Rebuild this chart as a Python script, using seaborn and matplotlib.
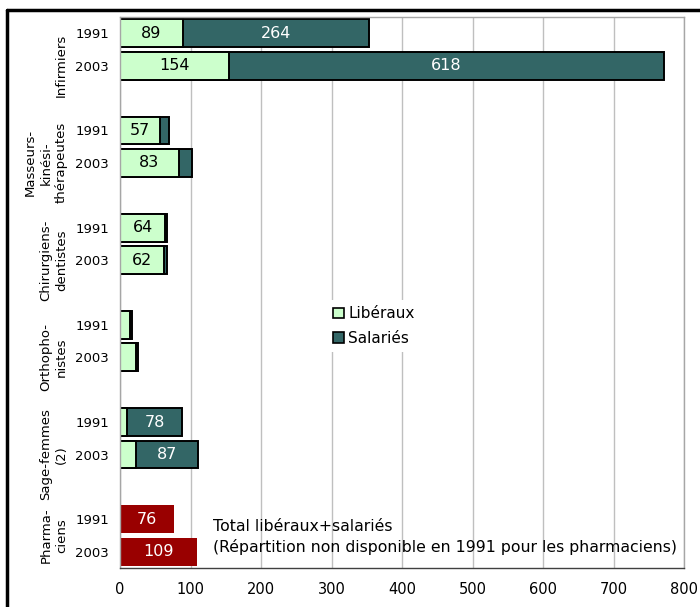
import matplotlib
matplotlib.use("Agg")
import matplotlib.pyplot as plt
import seaborn as sns
import pandas as pd
from matplotlib.lines import Line2D
from matplotlib.patches import Patch
from matplotlib.transforms import blended_transform_factory

# Effectifs (en milliers) par profession, libéraux / salariés
professions = ["Infirmiers", "Masseurs-\nkinési-\nthérapeutes", "Chirurgiens-\ndentistes",
               "Orthopho-\nnistes", "Sage-femmes\n(2)", "Pharma-\nciens"]
years = ["1991", "2003"]
liberaux = [89, 154, 57, 83, 64, 62, 14, 23, 10, 23]
salaries = [264, 618, 12, 19, 2, 4, 3, 3, 78, 87]
pharmaciens_total = [76, 109]
x_ticks = [0, 100, 200, 300, 400, 500, 600, 700, 800]

LIB = "#CCFFCC"
SAL = "#336666"
PHA = "#990000"

sns.set_style("white")
plt.rcParams["font.family"] = ["DejaVu Sans"]
plt.rcParams["text.color"] = "black"
plt.rcParams["xtick.color"] = "black"
plt.rcParams["ytick.color"] = "black"

# Slot order: two years per profession, one blank slot after each group but the last
order, split_rows, pharma_rows, tick_labels, group_centres = [], [], [], [], []
k = 0
for gi, prof in enumerate(professions):
    pos = []
    for yi, yr in enumerate(years):
        key = f"{gi}-{yr}"
        order.append(key)
        tick_labels.append(yr)
        pos.append(len(order) - 1)
        if gi < len(professions) - 1:
            split_rows.append({"slot": key, "lib": liberaux[k], "sal": salaries[k],
                               "total": liberaux[k] + salaries[k]})
            k += 1
        else:
            pharma_rows.append({"slot": key, "total": pharmaciens_total[yi]})
    if gi < len(professions) - 1:
        order.append(f"gap{gi}")
        tick_labels.append("")
        pos.append(len(order) - 1)
    # the group label spans its own slots, blank one included
    group_centres.append((pos[0] + pos[-1]) / 2)

split = pd.DataFrame(split_rows)
pharma = pd.DataFrame(pharma_rows)

fig = plt.figure(figsize=(7, 6.07), dpi=100)
W, H = 700, 607
ax = fig.add_axes([120 / W, 1 - 568 / H, (684 - 120) / W, (568 - 17) / H])

common = dict(y="slot", order=order, orient="h", width=0.86, errorbar=None,
              saturation=1, ax=ax)
sns.barplot(data=split, x="total", color=SAL, edgecolor="black", linewidth=1.4, **common)
sns.barplot(data=split, x="lib", color=LIB, edgecolor="black", linewidth=1.4, **common)
sns.barplot(data=pharma, x="total", color=PHA, linewidth=0, **common)

ax.set_ylim(len(order) - 0.5, -0.5)
ax.set_xlim(0, 800)
ax.set_xlabel("")
ax.set_ylabel("")

# Value labels inside the segments
for _, r in split.iterrows():
    yv = order.index(r["slot"])
    if r["lib"] >= 50:
        ax.text(r["lib"] / 2, yv, f"{r['lib']}", ha="center", va="center",
                fontsize=11.5, color="black")
    if r["sal"] >= 50:
        ax.text(r["lib"] + r["sal"] / 2, yv, f"{r['sal']}", ha="center", va="center",
                fontsize=11.5, color="white")
for _, r in pharma.iterrows():
    yv = order.index(r["slot"])
    ax.text(r["total"] / 2, yv, f"{r['total']}", ha="center", va="center",
            fontsize=11.5, color="white")

# Axes styling
ax.set_yticks(range(len(order)))
ax.set_yticklabels(tick_labels, fontsize=9.5)
ax.tick_params(axis="y", length=0, pad=8)
ax.set_xticks(x_ticks)
ax.set_xticklabels([str(t) for t in x_ticks], fontsize=10.5)
ax.tick_params(axis="x", direction="out", length=4, width=1, color="#404040", pad=6)
ax.xaxis.grid(True, color="#BFBFBF", linewidth=1)
ax.set_axisbelow(True)
for side in ["top", "right", "left"]:
    ax.spines[side].set_color("#A6A6A6")
    ax.spines[side].set_linewidth(1)
ax.spines["bottom"].set_color("#404040")
ax.spines["bottom"].set_linewidth(1)

# Profession names, rotated, left of the year labels
trans = blended_transform_factory(fig.transFigure, ax.transData)
for prof, yc in zip(professions, group_centres):
    ax.text(68 / W, yc, prof, rotation=90, ha="right", va="center",
            multialignment="center", fontsize=9.5, transform=trans, linespacing=1.25)

# Legend
handles = [Patch(facecolor=LIB, edgecolor="black", linewidth=1.2, label="Libéraux"),
           Patch(facecolor=SAL, edgecolor="black", linewidth=1.2, label="Salariés")]
leg = fig.legend(handles=handles, loc="center", bbox_to_anchor=(374 / W, 1 - 326 / H),
                 bbox_transform=fig.transFigure, fontsize=11, frameon=True,
                 handlelength=0.7, handleheight=0.7, handletextpad=0.3,
                 labelspacing=0.6, borderpad=0.4, fancybox=False)
leg.get_frame().set_edgecolor("none")
leg.get_frame().set_facecolor("white")
leg.get_frame().set_alpha(1)

# Note for the pharmacists
ax.text(132, (order.index("5-1991") + order.index("5-2003")) / 2 + 0.05,
        "Total libéraux+salariés\n(Répartition non disponible en 1991 pour les pharmaciens)",
        ha="left", va="center", fontsize=11.3, linespacing=1.4)

# Outer frame (top and left edges)
fig.add_artist(Line2D([6.5 / W, 1], [1 - 10 / H, 1 - 10 / H], color="black", linewidth=2.5,
                      transform=fig.transFigure))
fig.add_artist(Line2D([6.5 / W, 6.5 / W], [0, 1 - 10 / H], color="black", linewidth=2.5,
                      transform=fig.transFigure))

fig.savefig("out.png", dpi=100)
